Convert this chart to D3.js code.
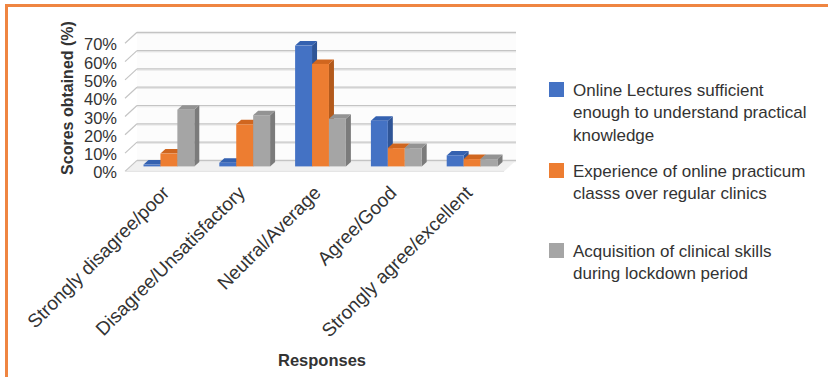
<!DOCTYPE html>
<html>
<head>
<meta charset="utf-8">
<script src="https://cdn.jsdelivr.net/npm/d3@7"></script>
<style>
  html, body { margin: 0; padding: 0; background: #fff; }
  svg { display: block; font-family: "Liberation Sans", Arial, sans-serif; }
</style>
</head>
<body>
<svg id="chart" width="828" height="377"></svg>
<script>
// ---- data ----
const categories = ["Strongly disagree/poor", "Disagree/Unsatisfactory", "Neutral/Average", "Agree/Good", "Strongly agree/excellent"];
const seriesKeys = ["lectures", "practicum", "skills"];
const lecturesValues = [1, 2, 66, 25, 6];
const practicumValues = [7, 23, 56, 10, 4];
const skillsValues = [31, 28, 26, 10, 4];
const legendLabels = [
  ["Online Lectures sufficient", "enough to understand practical", "knowledge"],
  ["Experience of online practicum", "classs over regular clinics"],
  ["Acquisition of clinical skills", "during lockdown period"]
];
const yTicks = [0, 10, 20, 30, 40, 50, 60, 70];
const yTitle = "Scores obtained (%)";
const xTitle = "Responses";

const seriesValues = [lecturesValues, practicumValues, skillsValues];
const colors = {
  front: ["#4472C4", "#ED7D31", "#A5A5A5"],
  side:  ["#2F5597", "#B35A1C", "#7B7B7B"],
  top:   ["#3461B0", "#D0661F", "#939393"]
};

// ---- geometry ----
const svg = d3.select("#chart");
const wallLeft = 137, wallRight = 516;
const depth = { dx: -12, dy: 11 };          // back wall -> front edge
const barShift = { dx: -6, dy: 6 };         // back wall -> bar front face
const barDepth = { dx: 5, dy: -4.5 };       // bar front -> bar back

const y = d3.scaleLinear().domain([0, 70]).range([160.4, 32.3]);
const x0 = d3.scaleBand().domain(categories).range([wallLeft, wallRight])
  .paddingInner(0.33).paddingOuter(0.165);
const x1 = d3.scaleBand().domain(seriesKeys).range([0, x0.bandwidth()]);

// ---- border (top + left) ----
svg.append("line").attr("x1", 5).attr("x2", 828).attr("y1", 5.5).attr("y2", 5.5)
  .attr("stroke", "#EF8541").attr("stroke-width", 3);
svg.append("line").attr("x1", 6.5).attr("x2", 6.5).attr("y1", 4).attr("y2", 377)
  .attr("stroke", "#EF8541").attr("stroke-width", 3);

// ---- walls ----
const g = svg.append("g");
g.append("rect").attr("x", wallLeft).attr("y", y(70)).attr("width", wallRight - wallLeft)
  .attr("height", y(0) - y(70)).attr("fill", "#fcfcfc");
g.append("path")
  .attr("d", `M${wallLeft},${y(0)} L${wallRight},${y(0)} L${wallRight + depth.dx},${y(0) + depth.dy} L${wallLeft + depth.dx},${y(0) + depth.dy} Z`)
  .attr("fill", "#f0f0f0");

yTicks.forEach(t => {
  const yy = y(t);
  g.append("line").attr("x1", wallLeft).attr("x2", wallRight).attr("y1", yy + 1.3).attr("y2", yy + 1.3)
    .attr("stroke", "#e6e6e6").attr("stroke-width", 1);
  g.append("line").attr("x1", wallLeft).attr("x2", wallRight).attr("y1", yy).attr("y2", yy)
    .attr("stroke", "#c4c4c4").attr("stroke-width", 1.2);
  g.append("line").attr("x1", wallLeft).attr("x2", wallLeft + depth.dx).attr("y1", yy).attr("y2", yy + depth.dy)
    .attr("stroke", "#c4c4c4").attr("stroke-width", 1.2);
});
g.append("line").attr("x1", wallLeft + depth.dx).attr("x2", wallRight + depth.dx)
  .attr("y1", y(0) + depth.dy).attr("y2", y(0) + depth.dy)
  .attr("stroke", "#e2e2e2").attr("stroke-width", 1);

// ---- bars ----
const barsG = svg.append("g");
categories.forEach((cat, ci) => {
  seriesKeys.forEach((key, si) => {
    const v = seriesValues[si][ci];
    const xl = x0(cat) + x1(key) + barShift.dx;
    const xr = xl + x1.bandwidth();
    const yb = y(0) + barShift.dy;
    const yt = y(v) + barShift.dy;
    const bx = barDepth.dx, by = barDepth.dy;
    barsG.append("path")
      .attr("d", `M${xr},${yt} L${xr + bx},${yt + by} L${xr + bx},${yb + by} L${xr},${yb} Z`)
      .attr("fill", colors.side[si]);
    barsG.append("path")
      .attr("d", `M${xl},${yt} L${xl + bx},${yt + by} L${xr + bx},${yt + by} L${xr},${yt} Z`)
      .attr("fill", colors.top[si]);
    barsG.append("rect").attr("x", xl).attr("y", yt).attr("width", xr - xl).attr("height", yb - yt)
      .attr("fill", colors.front[si]);
  });
});

// ---- y axis labels ----
const textColor = "#333333";
svg.append("g").selectAll("text").data(yTicks).join("text")
  .attr("x", 117).attr("y", d => y(d) + depth.dy + 1)
  .attr("text-anchor", "end").attr("dominant-baseline", "central")
  .attr("font-size", 16.5).attr("fill", textColor)
  .text(d => d + "%");

svg.append("text")
  .attr("transform", `translate(67,98) rotate(-90)`)
  .attr("text-anchor", "middle").attr("dominant-baseline", "central")
  .attr("font-size", 16).attr("font-weight", "bold").attr("fill", textColor)
  .text(yTitle);

// ---- x axis labels ----
svg.append("g").selectAll("text").data(categories).join("text")
  .attr("transform", d => `translate(${x0(d) + x0.bandwidth() / 2 - 4.5},194) rotate(-45)`)
  .attr("text-anchor", "end")
  .attr("font-size", 19).attr("fill", textColor)
  .text(d => d);

svg.append("text")
  .attr("x", 322).attr("y", 360)
  .attr("text-anchor", "middle").attr("dominant-baseline", "central")
  .attr("font-size", 16.5).attr("font-weight", "bold").attr("fill", textColor)
  .text(xTitle);

// ---- legend ----
const legendTops = [82, 163, 243];
const legend = svg.append("g");
legendLabels.forEach((lines, i) => {
  const top = legendTops[i];
  legend.append("rect").attr("x", 549).attr("y", top).attr("width", 15).attr("height", 15)
    .attr("fill", colors.front[i]);
  const t = legend.append("text").attr("font-size", 17).attr("fill", textColor);
  lines.forEach((ln, li) => {
    t.append("tspan").attr("x", 573).attr("y", top + 8 + li * 22.5)
      .attr("dominant-baseline", "central").text(ln);
  });
});
</script>
</body>
</html>
